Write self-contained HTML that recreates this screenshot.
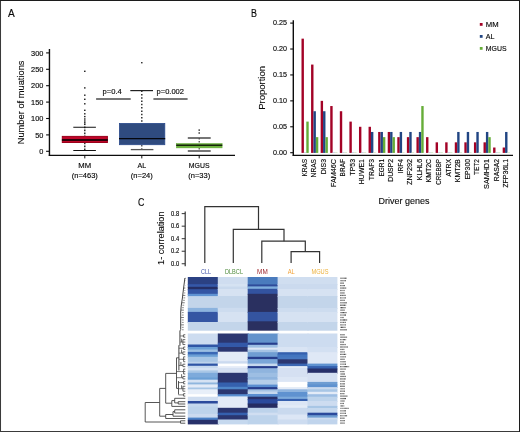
<!DOCTYPE html>
<html><head><meta charset="utf-8"><title>Figure</title>
<style>
html,body{margin:0;padding:0;background:#fff;}
body{width:520px;height:432px;overflow:hidden;}
svg{display:block;font-family:"Liberation Sans",sans-serif;}
</style></head>
<body>
<svg width="520" height="432" viewBox="0 0 520 432">
<rect x="0" y="0" width="520" height="432" fill="#ffffff"/>
<g opacity="0.999">
<text x="7.90" y="16.60" font-size="10.78" fill="#0a0a0a" stroke="#0a0a0a" textLength="6.73" lengthAdjust="spacingAndGlyphs" stroke-width="0.16">A</text>
<text x="251.00" y="16.60" font-size="10.78" fill="#0a0a0a" stroke="#0a0a0a" textLength="5.96" lengthAdjust="spacingAndGlyphs" stroke-width="0.16">B</text>
<text x="137.90" y="205.90" font-size="10.78" fill="#0a0a0a" stroke="#0a0a0a" textLength="6.38" lengthAdjust="spacingAndGlyphs" stroke-width="0.16">C</text>
<line x1="49.45" y1="49.00" x2="49.45" y2="155.85" stroke="#0d0d0d" stroke-width="1.4"/>
<line x1="48.75" y1="155.25" x2="235.00" y2="155.25" stroke="#0d0d0d" stroke-width="1.25"/>
<line x1="46.10" y1="151.30" x2="49.20" y2="151.30" stroke="#0d0d0d" stroke-width="1.1"/>
<text x="39.30" y="154.00" font-size="7.84" fill="#0a0a0a" stroke="#0a0a0a" textLength="4.10" lengthAdjust="spacingAndGlyphs" stroke-width="0.16">0</text>
<line x1="46.10" y1="134.90" x2="49.20" y2="134.90" stroke="#0d0d0d" stroke-width="1.1"/>
<text x="35.19" y="137.60" font-size="7.84" fill="#0a0a0a" stroke="#0a0a0a" textLength="8.21" lengthAdjust="spacingAndGlyphs" stroke-width="0.16">50</text>
<line x1="46.10" y1="118.50" x2="49.20" y2="118.50" stroke="#0d0d0d" stroke-width="1.1"/>
<text x="31.09" y="121.20" font-size="7.84" fill="#0a0a0a" stroke="#0a0a0a" textLength="12.31" lengthAdjust="spacingAndGlyphs" stroke-width="0.16">100</text>
<line x1="46.10" y1="102.10" x2="49.20" y2="102.10" stroke="#0d0d0d" stroke-width="1.1"/>
<text x="31.09" y="104.80" font-size="7.84" fill="#0a0a0a" stroke="#0a0a0a" textLength="12.31" lengthAdjust="spacingAndGlyphs" stroke-width="0.16">150</text>
<line x1="46.10" y1="85.70" x2="49.20" y2="85.70" stroke="#0d0d0d" stroke-width="1.1"/>
<text x="31.09" y="88.40" font-size="7.84" fill="#0a0a0a" stroke="#0a0a0a" textLength="12.31" lengthAdjust="spacingAndGlyphs" stroke-width="0.16">200</text>
<line x1="46.10" y1="69.30" x2="49.20" y2="69.30" stroke="#0d0d0d" stroke-width="1.1"/>
<text x="31.09" y="72.00" font-size="7.84" fill="#0a0a0a" stroke="#0a0a0a" textLength="12.31" lengthAdjust="spacingAndGlyphs" stroke-width="0.16">250</text>
<line x1="46.10" y1="52.90" x2="49.20" y2="52.90" stroke="#0d0d0d" stroke-width="1.1"/>
<text x="31.09" y="55.60" font-size="7.84" fill="#0a0a0a" stroke="#0a0a0a" textLength="12.31" lengthAdjust="spacingAndGlyphs" stroke-width="0.16">300</text>
<text transform="translate(24.20,102.40) rotate(-90)" x="-41.89" y="0" font-size="9.50" fill="#0a0a0a" stroke="#0a0a0a" textLength="83.78" lengthAdjust="spacingAndGlyphs" stroke-width="0.12">Number of muations</text>
<line x1="84.80" y1="155.20" x2="84.80" y2="158.40" stroke="#0d0d0d" stroke-width="1.0"/>
<line x1="141.80" y1="155.20" x2="141.80" y2="158.40" stroke="#0d0d0d" stroke-width="1.0"/>
<line x1="199.20" y1="155.20" x2="199.20" y2="158.40" stroke="#0d0d0d" stroke-width="1.0"/>
<text x="78.37" y="168.20" font-size="7.84" fill="#0a0a0a" stroke="#0a0a0a" textLength="12.86" lengthAdjust="spacingAndGlyphs" stroke-width="0.16">MM</text>
<text x="71.77" y="178.00" font-size="7.84" fill="#0a0a0a" stroke="#0a0a0a" textLength="26.06" lengthAdjust="spacingAndGlyphs" stroke-width="0.16">(n=463)</text>
<text x="137.46" y="168.20" font-size="7.84" fill="#0a0a0a" stroke="#0a0a0a" textLength="8.67" lengthAdjust="spacingAndGlyphs" stroke-width="0.16">AL</text>
<text x="130.82" y="178.00" font-size="7.84" fill="#0a0a0a" stroke="#0a0a0a" textLength="21.96" lengthAdjust="spacingAndGlyphs" stroke-width="0.16">(n=24)</text>
<text x="188.84" y="168.20" font-size="7.84" fill="#0a0a0a" stroke="#0a0a0a" textLength="20.72" lengthAdjust="spacingAndGlyphs" stroke-width="0.16">MGUS</text>
<text x="188.22" y="178.00" font-size="7.84" fill="#0a0a0a" stroke="#0a0a0a" textLength="21.96" lengthAdjust="spacingAndGlyphs" stroke-width="0.16">(n=33)</text>
<text x="102.60" y="94.20" font-size="7.84" fill="#0a0a0a" stroke="#0a0a0a" textLength="19.18" lengthAdjust="spacingAndGlyphs" stroke-width="0.16">p=0.4</text>
<text x="156.60" y="94.20" font-size="7.84" fill="#0a0a0a" stroke="#0a0a0a" textLength="27.39" lengthAdjust="spacingAndGlyphs" stroke-width="0.16">p=0.002</text>
<line x1="96.10" y1="99.10" x2="130.70" y2="99.10" stroke="#4a4a4a" stroke-width="1.5"/>
<line x1="153.40" y1="99.10" x2="187.60" y2="99.10" stroke="#4a4a4a" stroke-width="1.5"/>
<line x1="84.80" y1="126.50" x2="84.80" y2="136.00" stroke="#111" stroke-width="1.3" stroke-dasharray="1.7 1.3"/>
<line x1="84.80" y1="142.60" x2="84.80" y2="150.50" stroke="#111" stroke-width="1.3" stroke-dasharray="1.7 1.3"/>
<line x1="73.30" y1="127.25" x2="95.90" y2="127.25" stroke="#111" stroke-width="1.0"/>
<line x1="73.30" y1="150.50" x2="95.90" y2="150.50" stroke="#111" stroke-width="1.0"/>
<rect x="62.30" y="136.40" width="45.10" height="6.10" fill="#bf0629" stroke="#9c001c" stroke-width="1.0"/>
<line x1="61.90" y1="140.00" x2="107.80" y2="140.00" stroke="#2a0008" stroke-width="2.0"/>
<rect x="84.10" y="70.60" width="1.40" height="1.40" fill="#111"/>
<rect x="84.10" y="87.20" width="1.40" height="1.40" fill="#111"/>
<rect x="84.10" y="94.50" width="1.40" height="1.40" fill="#111"/>
<rect x="84.10" y="98.60" width="1.40" height="1.40" fill="#111"/>
<rect x="84.10" y="103.10" width="1.40" height="1.40" fill="#111"/>
<rect x="84.10" y="109.60" width="1.40" height="1.40" fill="#111"/>
<rect x="84.10" y="113.10" width="1.40" height="1.40" fill="#111"/>
<rect x="84.10" y="115.90" width="1.40" height="1.40" fill="#111"/>
<rect x="84.10" y="118.30" width="1.40" height="1.40" fill="#111"/>
<rect x="84.10" y="120.30" width="1.40" height="1.40" fill="#111"/>
<rect x="84.10" y="122.10" width="1.40" height="1.40" fill="#111"/>
<rect x="84.10" y="123.70" width="1.40" height="1.40" fill="#111"/>
<line x1="141.80" y1="90.60" x2="141.80" y2="123.00" stroke="#222" stroke-width="1.4" stroke-dasharray="1.5 1.8"/>
<line x1="141.80" y1="145.00" x2="141.80" y2="149.60" stroke="#333" stroke-width="1.2" stroke-dasharray="1.5 1.8"/>
<line x1="130.30" y1="90.60" x2="153.00" y2="90.60" stroke="#222" stroke-width="1.2"/>
<line x1="130.80" y1="149.60" x2="153.40" y2="149.60" stroke="#555" stroke-width="1.3"/>
<rect x="119.40" y="123.40" width="45.40" height="21.30" fill="#2f4b7f" stroke="#2b4a8c" stroke-width="0.8"/>
<line x1="119.00" y1="138.60" x2="165.20" y2="138.60" stroke="#05070d" stroke-width="1.3"/>
<rect x="141.10" y="62.00" width="1.40" height="1.40" fill="#222"/>
<line x1="199.20" y1="138.00" x2="199.20" y2="143.30" stroke="#333" stroke-width="1.1" stroke-dasharray="1.4 1.6"/>
<line x1="199.20" y1="148.00" x2="199.20" y2="151.00" stroke="#333" stroke-width="1.1" stroke-dasharray="1.4 1.6"/>
<line x1="187.80" y1="138.00" x2="210.70" y2="138.00" stroke="#484848" stroke-width="1.5"/>
<line x1="187.80" y1="151.00" x2="210.70" y2="151.00" stroke="#484848" stroke-width="1.5"/>
<rect x="176.40" y="143.50" width="45.70" height="4.40" fill="#6cb33e" stroke="#63a838" stroke-width="0.5"/>
<line x1="176.20" y1="145.20" x2="222.30" y2="145.20" stroke="#16240a" stroke-width="1.6"/>
<rect x="198.50" y="129.40" width="1.40" height="1.40" fill="#222"/>
<rect x="198.50" y="132.30" width="1.40" height="1.40" fill="#222"/>
<line x1="293.30" y1="20.30" x2="293.30" y2="155.85" stroke="#0d0d0d" stroke-width="1.4"/>
<line x1="292.60" y1="155.25" x2="513.00" y2="155.25" stroke="#0d0d0d" stroke-width="1.25"/>
<line x1="290.20" y1="152.70" x2="293.20" y2="152.70" stroke="#0d0d0d" stroke-width="1.1"/>
<text x="272.93" y="154.70" font-size="7.84" fill="#0a0a0a" stroke="#0a0a0a" textLength="13.97" lengthAdjust="spacingAndGlyphs" stroke-width="0.16">0.00</text>
<line x1="290.20" y1="126.78" x2="293.20" y2="126.78" stroke="#0d0d0d" stroke-width="1.1"/>
<text x="272.93" y="128.78" font-size="7.84" fill="#0a0a0a" stroke="#0a0a0a" textLength="13.97" lengthAdjust="spacingAndGlyphs" stroke-width="0.16">0.05</text>
<line x1="290.20" y1="100.86" x2="293.20" y2="100.86" stroke="#0d0d0d" stroke-width="1.1"/>
<text x="272.93" y="102.86" font-size="7.84" fill="#0a0a0a" stroke="#0a0a0a" textLength="13.97" lengthAdjust="spacingAndGlyphs" stroke-width="0.16">0.10</text>
<line x1="290.20" y1="74.94" x2="293.20" y2="74.94" stroke="#0d0d0d" stroke-width="1.1"/>
<text x="272.93" y="76.94" font-size="7.84" fill="#0a0a0a" stroke="#0a0a0a" textLength="13.97" lengthAdjust="spacingAndGlyphs" stroke-width="0.16">0.15</text>
<line x1="290.20" y1="49.02" x2="293.20" y2="49.02" stroke="#0d0d0d" stroke-width="1.1"/>
<text x="272.93" y="51.02" font-size="7.84" fill="#0a0a0a" stroke="#0a0a0a" textLength="13.97" lengthAdjust="spacingAndGlyphs" stroke-width="0.16">0.20</text>
<line x1="290.20" y1="23.10" x2="293.20" y2="23.10" stroke="#0d0d0d" stroke-width="1.1"/>
<text x="272.93" y="25.10" font-size="7.84" fill="#0a0a0a" stroke="#0a0a0a" textLength="13.97" lengthAdjust="spacingAndGlyphs" stroke-width="0.16">0.25</text>
<text transform="translate(265.40,87.90) rotate(-90)" x="-21.93" y="0" font-size="9.50" fill="#0a0a0a" stroke="#0a0a0a" textLength="43.86" lengthAdjust="spacingAndGlyphs" stroke-width="0.12">Proportion</text>
<text x="378.49" y="204.20" font-size="9.50" fill="#0a0a0a" stroke="#0a0a0a" textLength="51.02" lengthAdjust="spacingAndGlyphs" stroke-width="0.12">Driver genes</text>
<rect x="301.50" y="38.65" width="2.40" height="114.25" fill="#a30226"/>
<rect x="303.90" y="152.20" width="2.40" height="0.70" fill="#b9c6e0"/>
<rect x="306.30" y="121.60" width="2.40" height="31.30" fill="#66ad38"/>
<text transform="translate(306.90,159.00) rotate(-90)" x="-17.48" y="0" font-size="7.84" fill="#0a0a0a" stroke="#0a0a0a" textLength="17.48" lengthAdjust="spacingAndGlyphs" stroke-width="0.16">KRAS</text>
<rect x="311.08" y="64.57" width="2.40" height="88.33" fill="#a30226"/>
<rect x="313.48" y="111.23" width="2.40" height="41.67" fill="#214583"/>
<rect x="315.88" y="137.15" width="2.40" height="15.75" fill="#66ad38"/>
<text transform="translate(316.48,159.00) rotate(-90)" x="-18.41" y="0" font-size="7.84" fill="#0a0a0a" stroke="#0a0a0a" textLength="18.41" lengthAdjust="spacingAndGlyphs" stroke-width="0.16">NRAS</text>
<rect x="320.66" y="100.86" width="2.40" height="52.04" fill="#a30226"/>
<rect x="323.06" y="111.23" width="2.40" height="41.67" fill="#214583"/>
<rect x="325.46" y="137.15" width="2.40" height="15.75" fill="#66ad38"/>
<text transform="translate(326.06,159.00) rotate(-90)" x="-15.29" y="0" font-size="7.84" fill="#0a0a0a" stroke="#0a0a0a" textLength="15.29" lengthAdjust="spacingAndGlyphs" stroke-width="0.16">DIS3</text>
<rect x="330.24" y="106.04" width="2.40" height="46.86" fill="#a30226"/>
<rect x="332.64" y="152.20" width="2.40" height="0.70" fill="#b9c6e0"/>
<rect x="335.04" y="152.20" width="2.40" height="0.70" fill="#cfe6bd"/>
<text transform="translate(335.64,159.00) rotate(-90)" x="-28.07" y="0" font-size="7.84" fill="#0a0a0a" stroke="#0a0a0a" textLength="28.07" lengthAdjust="spacingAndGlyphs" stroke-width="0.16">FAM46C</text>
<rect x="339.82" y="111.23" width="2.40" height="41.67" fill="#a30226"/>
<rect x="342.22" y="152.20" width="2.40" height="0.70" fill="#b9c6e0"/>
<rect x="344.62" y="152.20" width="2.40" height="0.70" fill="#cfe6bd"/>
<text transform="translate(345.22,159.00) rotate(-90)" x="-17.43" y="0" font-size="7.84" fill="#0a0a0a" stroke="#0a0a0a" textLength="17.43" lengthAdjust="spacingAndGlyphs" stroke-width="0.16">BRAF</text>
<rect x="349.40" y="121.60" width="2.40" height="31.30" fill="#a30226"/>
<rect x="351.80" y="152.20" width="2.40" height="0.70" fill="#b9c6e0"/>
<rect x="354.20" y="152.20" width="2.40" height="0.70" fill="#cfe6bd"/>
<text transform="translate(354.80,159.00) rotate(-90)" x="-16.44" y="0" font-size="7.84" fill="#0a0a0a" stroke="#0a0a0a" textLength="16.44" lengthAdjust="spacingAndGlyphs" stroke-width="0.16">TP53</text>
<rect x="358.98" y="126.78" width="2.40" height="26.12" fill="#a30226"/>
<rect x="361.38" y="152.20" width="2.40" height="0.70" fill="#b9c6e0"/>
<rect x="363.78" y="152.20" width="2.40" height="0.70" fill="#cfe6bd"/>
<text transform="translate(364.38,159.00) rotate(-90)" x="-25.20" y="0" font-size="7.84" fill="#0a0a0a" stroke="#0a0a0a" textLength="25.20" lengthAdjust="spacingAndGlyphs" stroke-width="0.16">HUWE1</text>
<rect x="368.56" y="126.78" width="2.40" height="26.12" fill="#a30226"/>
<rect x="370.96" y="131.96" width="2.40" height="20.94" fill="#214583"/>
<rect x="373.36" y="152.20" width="2.40" height="0.70" fill="#cfe6bd"/>
<text transform="translate(373.96,159.00) rotate(-90)" x="-21.18" y="0" font-size="7.84" fill="#0a0a0a" stroke="#0a0a0a" textLength="21.18" lengthAdjust="spacingAndGlyphs" stroke-width="0.16">TRAF3</text>
<rect x="378.14" y="131.96" width="2.40" height="20.94" fill="#a30226"/>
<rect x="380.54" y="131.96" width="2.40" height="20.94" fill="#214583"/>
<rect x="382.94" y="137.15" width="2.40" height="15.75" fill="#66ad38"/>
<text transform="translate(383.54,159.00) rotate(-90)" x="-17.51" y="0" font-size="7.84" fill="#0a0a0a" stroke="#0a0a0a" textLength="17.51" lengthAdjust="spacingAndGlyphs" stroke-width="0.16">EGR1</text>
<rect x="387.72" y="131.96" width="2.40" height="20.94" fill="#a30226"/>
<rect x="390.12" y="131.96" width="2.40" height="20.94" fill="#214583"/>
<rect x="392.52" y="137.15" width="2.40" height="15.75" fill="#66ad38"/>
<text transform="translate(393.12,159.00) rotate(-90)" x="-22.81" y="0" font-size="7.84" fill="#0a0a0a" stroke="#0a0a0a" textLength="22.81" lengthAdjust="spacingAndGlyphs" stroke-width="0.16">DUSP2</text>
<rect x="397.30" y="137.15" width="2.40" height="15.75" fill="#a30226"/>
<rect x="399.70" y="131.96" width="2.40" height="20.94" fill="#214583"/>
<rect x="402.10" y="152.20" width="2.40" height="0.70" fill="#cfe6bd"/>
<text transform="translate(402.70,159.00) rotate(-90)" x="-14.22" y="0" font-size="7.84" fill="#0a0a0a" stroke="#0a0a0a" textLength="14.22" lengthAdjust="spacingAndGlyphs" stroke-width="0.16">IRF4</text>
<rect x="406.88" y="137.15" width="2.40" height="15.75" fill="#a30226"/>
<rect x="409.28" y="131.96" width="2.40" height="20.94" fill="#214583"/>
<rect x="411.68" y="152.20" width="2.40" height="0.70" fill="#cfe6bd"/>
<text transform="translate(412.28,159.00) rotate(-90)" x="-25.90" y="0" font-size="7.84" fill="#0a0a0a" stroke="#0a0a0a" textLength="25.90" lengthAdjust="spacingAndGlyphs" stroke-width="0.16">ZNF292</text>
<rect x="416.46" y="137.15" width="2.40" height="15.75" fill="#a30226"/>
<rect x="418.86" y="131.96" width="2.40" height="20.94" fill="#214583"/>
<rect x="421.26" y="106.04" width="2.40" height="46.86" fill="#66ad38"/>
<text transform="translate(421.86,159.00) rotate(-90)" x="-21.21" y="0" font-size="7.84" fill="#0a0a0a" stroke="#0a0a0a" textLength="21.21" lengthAdjust="spacingAndGlyphs" stroke-width="0.16">KLHL6</text>
<rect x="426.04" y="137.15" width="2.40" height="15.75" fill="#a30226"/>
<rect x="428.44" y="152.20" width="2.40" height="0.70" fill="#b9c6e0"/>
<rect x="430.84" y="152.20" width="2.40" height="0.70" fill="#cfe6bd"/>
<text transform="translate(431.44,159.00) rotate(-90)" x="-23.49" y="0" font-size="7.84" fill="#0a0a0a" stroke="#0a0a0a" textLength="23.49" lengthAdjust="spacingAndGlyphs" stroke-width="0.16">KMT2C</text>
<rect x="435.62" y="142.33" width="2.40" height="10.57" fill="#a30226"/>
<rect x="438.02" y="152.20" width="2.40" height="0.70" fill="#b9c6e0"/>
<rect x="440.42" y="152.20" width="2.40" height="0.70" fill="#cfe6bd"/>
<text transform="translate(441.02,159.00) rotate(-90)" x="-25.81" y="0" font-size="7.84" fill="#0a0a0a" stroke="#0a0a0a" textLength="25.81" lengthAdjust="spacingAndGlyphs" stroke-width="0.16">CREBBP</text>
<rect x="445.20" y="142.33" width="2.40" height="10.57" fill="#a30226"/>
<rect x="447.60" y="152.20" width="2.40" height="0.70" fill="#b9c6e0"/>
<rect x="450.00" y="152.20" width="2.40" height="0.70" fill="#cfe6bd"/>
<text transform="translate(450.60,159.00) rotate(-90)" x="-17.74" y="0" font-size="7.84" fill="#0a0a0a" stroke="#0a0a0a" textLength="17.74" lengthAdjust="spacingAndGlyphs" stroke-width="0.16">ATRX</text>
<rect x="454.78" y="142.33" width="2.40" height="10.57" fill="#a30226"/>
<rect x="457.18" y="131.96" width="2.40" height="20.94" fill="#214583"/>
<rect x="459.58" y="152.20" width="2.40" height="0.70" fill="#cfe6bd"/>
<text transform="translate(460.18,159.00) rotate(-90)" x="-23.18" y="0" font-size="7.84" fill="#0a0a0a" stroke="#0a0a0a" textLength="23.18" lengthAdjust="spacingAndGlyphs" stroke-width="0.16">KMT2B</text>
<rect x="464.36" y="142.33" width="2.40" height="10.57" fill="#a30226"/>
<rect x="466.76" y="131.96" width="2.40" height="20.94" fill="#214583"/>
<rect x="469.16" y="152.20" width="2.40" height="0.70" fill="#cfe6bd"/>
<text transform="translate(469.76,159.00) rotate(-90)" x="-20.50" y="0" font-size="7.84" fill="#0a0a0a" stroke="#0a0a0a" textLength="20.50" lengthAdjust="spacingAndGlyphs" stroke-width="0.16">EP300</text>
<rect x="473.94" y="142.33" width="2.40" height="10.57" fill="#a30226"/>
<rect x="476.34" y="131.96" width="2.40" height="20.94" fill="#214583"/>
<rect x="478.74" y="152.20" width="2.40" height="0.70" fill="#cfe6bd"/>
<text transform="translate(479.34,159.00) rotate(-90)" x="-15.99" y="0" font-size="7.84" fill="#0a0a0a" stroke="#0a0a0a" textLength="15.99" lengthAdjust="spacingAndGlyphs" stroke-width="0.16">TET2</text>
<rect x="483.52" y="142.33" width="2.40" height="10.57" fill="#a30226"/>
<rect x="485.92" y="131.96" width="2.40" height="20.94" fill="#214583"/>
<rect x="488.32" y="137.15" width="2.40" height="15.75" fill="#66ad38"/>
<text transform="translate(488.92,159.00) rotate(-90)" x="-29.92" y="0" font-size="7.84" fill="#0a0a0a" stroke="#0a0a0a" textLength="29.92" lengthAdjust="spacingAndGlyphs" stroke-width="0.16">SAMHD1</text>
<rect x="493.10" y="147.52" width="2.40" height="5.38" fill="#a30226"/>
<rect x="495.50" y="152.20" width="2.40" height="0.70" fill="#b9c6e0"/>
<rect x="497.90" y="152.20" width="2.40" height="0.70" fill="#cfe6bd"/>
<text transform="translate(498.50,159.00) rotate(-90)" x="-22.14" y="0" font-size="7.84" fill="#0a0a0a" stroke="#0a0a0a" textLength="22.14" lengthAdjust="spacingAndGlyphs" stroke-width="0.16">RASA2</text>
<rect x="502.68" y="147.52" width="2.40" height="5.38" fill="#a30226"/>
<rect x="505.08" y="131.96" width="2.40" height="20.94" fill="#214583"/>
<rect x="507.48" y="152.20" width="2.40" height="0.70" fill="#cfe6bd"/>
<text transform="translate(508.08,159.00) rotate(-90)" x="-28.66" y="0" font-size="7.84" fill="#0a0a0a" stroke="#0a0a0a" textLength="28.66" lengthAdjust="spacingAndGlyphs" stroke-width="0.16">ZFP36L1</text>
<rect x="479.80" y="23.00" width="2.80" height="2.80" fill="#a30226"/>
<text x="485.80" y="27.10" font-size="7.84" fill="#0a0a0a" stroke="#0a0a0a" textLength="12.86" lengthAdjust="spacingAndGlyphs" stroke-width="0.16">MM</text>
<rect x="479.80" y="35.00" width="2.80" height="2.80" fill="#214583"/>
<text x="485.80" y="39.10" font-size="7.84" fill="#0a0a0a" stroke="#0a0a0a" textLength="8.67" lengthAdjust="spacingAndGlyphs" stroke-width="0.16">AL</text>
<rect x="479.80" y="47.00" width="2.80" height="2.80" fill="#66ad38"/>
<text x="485.80" y="51.10" font-size="7.84" fill="#0a0a0a" stroke="#0a0a0a" textLength="20.72" lengthAdjust="spacingAndGlyphs" stroke-width="0.16">MGUS</text>
<line x1="185.20" y1="211.50" x2="185.20" y2="266.20" stroke="#333" stroke-width="1.2"/>
<line x1="181.70" y1="263.75" x2="185.20" y2="263.75" stroke="#333" stroke-width="1.0"/>
<text x="171.09" y="265.85" font-size="6.37" fill="#0a0a0a" stroke="#0a0a0a" textLength="8.01" lengthAdjust="spacingAndGlyphs" stroke-width="0.16">0.0</text>
<line x1="181.70" y1="251.22" x2="185.20" y2="251.22" stroke="#333" stroke-width="1.0"/>
<text x="171.09" y="253.32" font-size="6.37" fill="#0a0a0a" stroke="#0a0a0a" textLength="8.01" lengthAdjust="spacingAndGlyphs" stroke-width="0.16">0.2</text>
<line x1="181.70" y1="238.69" x2="185.20" y2="238.69" stroke="#333" stroke-width="1.0"/>
<text x="171.09" y="240.79" font-size="6.37" fill="#0a0a0a" stroke="#0a0a0a" textLength="8.01" lengthAdjust="spacingAndGlyphs" stroke-width="0.16">0.4</text>
<line x1="181.70" y1="226.16" x2="185.20" y2="226.16" stroke="#333" stroke-width="1.0"/>
<text x="171.09" y="228.26" font-size="6.37" fill="#0a0a0a" stroke="#0a0a0a" textLength="8.01" lengthAdjust="spacingAndGlyphs" stroke-width="0.16">0.6</text>
<line x1="181.70" y1="213.63" x2="185.20" y2="213.63" stroke="#333" stroke-width="1.0"/>
<text x="171.09" y="215.73" font-size="6.37" fill="#0a0a0a" stroke="#0a0a0a" textLength="8.01" lengthAdjust="spacingAndGlyphs" stroke-width="0.16">0.8</text>
<text transform="translate(163.70,238.20) rotate(-90)" x="-26.74" y="0" font-size="9.40" fill="#0a0a0a" stroke="#0a0a0a" textLength="53.48" lengthAdjust="spacingAndGlyphs" stroke-width="0.1">1- correlation</text>
<polyline fill="none" stroke="#333" stroke-width="1.2" points="291.10,262.90 291.10,251.70 319.60,251.70 319.60,262.90"/>
<polyline fill="none" stroke="#333" stroke-width="1.2" points="261.80,262.90 261.80,241.20 305.30,241.20 305.30,251.70"/>
<polyline fill="none" stroke="#333" stroke-width="1.2" points="233.30,262.90 233.30,229.40 284.00,229.40 284.00,241.20"/>
<polyline fill="none" stroke="#333" stroke-width="1.2" points="204.80,262.90 204.80,206.60 258.50,206.60 258.50,229.40"/>
<text x="200.97" y="273.90" font-size="6.47" fill="#4254a8" stroke="#4254a8" textLength="10.06" lengthAdjust="spacingAndGlyphs" stroke-width="0">CLL</text>
<text x="224.98" y="273.90" font-size="6.47" fill="#4f8b3d" stroke="#4f8b3d" textLength="18.03" lengthAdjust="spacingAndGlyphs" stroke-width="0">DLBCL</text>
<text x="257.09" y="273.90" font-size="6.47" fill="#9c2026" stroke="#9c2026" textLength="10.61" lengthAdjust="spacingAndGlyphs" stroke-width="0">MM</text>
<text x="287.72" y="273.90" font-size="6.47" fill="#f2a33a" stroke="#f2a33a" textLength="7.15" lengthAdjust="spacingAndGlyphs" stroke-width="0">AL</text>
<text x="311.45" y="273.90" font-size="6.47" fill="#edb13c" stroke="#edb13c" textLength="17.09" lengthAdjust="spacingAndGlyphs" stroke-width="0">MGUS</text>
<g shape-rendering="auto">
<rect x="187.80" y="277.00" width="31.00" height="8.20" fill="#2b4183"/>
<rect x="187.80" y="284.20" width="31.00" height="3.60" fill="#3558a8"/>
<rect x="187.80" y="286.80" width="31.00" height="3.40" fill="#252f66"/>
<rect x="187.80" y="289.20" width="31.00" height="5.60" fill="#3455a3"/>
<rect x="187.80" y="293.80" width="31.00" height="3.30" fill="#5f93d2"/>
<rect x="187.80" y="296.10" width="31.00" height="12.80" fill="#c3d5ea"/>
<rect x="187.80" y="307.90" width="31.00" height="5.00" fill="#8cb3de"/>
<rect x="187.80" y="311.90" width="31.00" height="11.10" fill="#3455a3"/>
<rect x="187.80" y="322.00" width="31.00" height="8.70" fill="#c3d5ea"/>
<rect x="187.80" y="333.50" width="31.00" height="12.00" fill="#cddcf0"/>
<rect x="187.80" y="344.50" width="31.00" height="3.50" fill="#2f55a5"/>
<rect x="187.80" y="347.00" width="31.00" height="3.50" fill="#6b9fd5"/>
<rect x="187.80" y="349.50" width="31.00" height="3.40" fill="#9bbfe2"/>
<rect x="187.80" y="351.90" width="31.00" height="3.50" fill="#3a68b5"/>
<rect x="187.80" y="354.40" width="31.00" height="3.40" fill="#6b9fd5"/>
<rect x="187.80" y="356.80" width="31.00" height="6.00" fill="#a8c6e5"/>
<rect x="187.80" y="361.80" width="31.00" height="2.80" fill="#bdd3eb"/>
<rect x="187.80" y="363.60" width="31.00" height="3.20" fill="#2f55a5"/>
<rect x="187.80" y="365.80" width="31.00" height="3.10" fill="#c5d8ee"/>
<rect x="187.80" y="367.90" width="31.00" height="3.50" fill="#d5e2f3"/>
<rect x="187.80" y="370.40" width="31.00" height="3.40" fill="#a9c7e6"/>
<rect x="187.80" y="372.80" width="31.00" height="5.70" fill="#7daadb"/>
<rect x="187.80" y="377.50" width="31.00" height="3.20" fill="#6b9fd5"/>
<rect x="187.80" y="379.70" width="31.00" height="3.80" fill="#d5e2f3"/>
<rect x="187.80" y="382.50" width="31.00" height="2.90" fill="#8fb6de"/>
<rect x="187.80" y="384.40" width="31.00" height="4.10" fill="#e3ebf7"/>
<rect x="187.80" y="387.50" width="31.00" height="2.80" fill="#a8c6e5"/>
<rect x="187.80" y="389.30" width="31.00" height="5.90" fill="#e8eff9"/>
<rect x="187.80" y="394.20" width="31.00" height="3.50" fill="#ffffff"/>
<rect x="187.80" y="396.70" width="31.00" height="5.30" fill="#cfddf0"/>
<rect x="187.80" y="401.00" width="31.00" height="3.50" fill="#2b4a9c"/>
<rect x="187.80" y="403.50" width="31.00" height="4.00" fill="#c5d8ee"/>
<rect x="187.80" y="406.50" width="31.00" height="8.40" fill="#bdd3eb"/>
<rect x="187.80" y="413.90" width="31.00" height="4.70" fill="#cbdaef"/>
<rect x="187.80" y="417.60" width="31.00" height="3.20" fill="#4a7fc5"/>
<rect x="187.80" y="419.80" width="31.00" height="4.60" fill="#27306a"/>
<rect x="217.80" y="277.00" width="30.90" height="8.00" fill="#cfddf0"/>
<rect x="217.80" y="284.00" width="30.90" height="3.50" fill="#d5e2f2"/>
<rect x="217.80" y="286.50" width="30.90" height="3.50" fill="#c9d9ed"/>
<rect x="217.80" y="289.00" width="30.90" height="8.00" fill="#d6e2f2"/>
<rect x="217.80" y="296.00" width="30.90" height="12.90" fill="#c3d5ea"/>
<rect x="217.80" y="307.90" width="30.90" height="5.10" fill="#cddcef"/>
<rect x="217.80" y="312.00" width="30.90" height="11.00" fill="#d6e2f2"/>
<rect x="217.80" y="322.00" width="30.90" height="8.70" fill="#c3d5ea"/>
<rect x="217.80" y="333.50" width="30.90" height="10.20" fill="#2b3670"/>
<rect x="217.80" y="342.70" width="30.90" height="5.30" fill="#3358a8"/>
<rect x="217.80" y="347.00" width="30.90" height="5.70" fill="#2b3670"/>
<rect x="217.80" y="351.70" width="30.90" height="10.50" fill="#e3ebf7"/>
<rect x="217.80" y="361.20" width="30.90" height="3.40" fill="#cbdaef"/>
<rect x="217.80" y="363.60" width="30.90" height="3.50" fill="#ffffff"/>
<rect x="217.80" y="366.10" width="30.90" height="2.80" fill="#e6edf8"/>
<rect x="217.80" y="367.90" width="30.90" height="5.90" fill="#d5e0f2"/>
<rect x="217.80" y="372.80" width="30.90" height="10.70" fill="#2b3670"/>
<rect x="217.80" y="382.50" width="30.90" height="5.30" fill="#3560ae"/>
<rect x="217.80" y="386.80" width="30.90" height="3.50" fill="#4f86c8"/>
<rect x="217.80" y="389.30" width="30.90" height="5.90" fill="#2b3670"/>
<rect x="217.80" y="394.20" width="30.90" height="3.20" fill="#5a8ed0"/>
<rect x="217.80" y="396.40" width="30.90" height="12.40" fill="#e3ebf7"/>
<rect x="217.80" y="407.80" width="30.90" height="5.90" fill="#2b3670"/>
<rect x="217.80" y="412.70" width="30.90" height="3.50" fill="#3560ae"/>
<rect x="217.80" y="415.20" width="30.90" height="5.30" fill="#2b3670"/>
<rect x="217.80" y="419.50" width="30.90" height="4.90" fill="#c5d8ee"/>
<rect x="247.70" y="277.00" width="30.90" height="8.40" fill="#4a7bbd"/>
<rect x="247.70" y="284.40" width="30.90" height="3.00" fill="#2f4c9a"/>
<rect x="247.70" y="286.40" width="30.90" height="3.40" fill="#7faedd"/>
<rect x="247.70" y="288.80" width="30.90" height="6.00" fill="#3353a0"/>
<rect x="247.70" y="293.80" width="30.90" height="19.10" fill="#2a3060"/>
<rect x="247.70" y="311.90" width="30.90" height="10.40" fill="#3454a0"/>
<rect x="247.70" y="321.30" width="30.90" height="9.40" fill="#2a3060"/>
<rect x="247.70" y="333.50" width="30.90" height="10.20" fill="#6393cc"/>
<rect x="247.70" y="342.70" width="30.90" height="3.10" fill="#263d8c"/>
<rect x="247.70" y="344.80" width="30.90" height="3.80" fill="#9dbee3"/>
<rect x="247.70" y="347.60" width="30.90" height="3.10" fill="#dde6f5"/>
<rect x="247.70" y="349.70" width="30.90" height="3.50" fill="#a5c3e4"/>
<rect x="247.70" y="352.20" width="30.90" height="5.60" fill="#6f9dd2"/>
<rect x="247.70" y="356.80" width="30.90" height="3.30" fill="#263d8c"/>
<rect x="247.70" y="359.10" width="30.90" height="5.50" fill="#7aa6d8"/>
<rect x="247.70" y="363.60" width="30.90" height="3.50" fill="#c5d8ee"/>
<rect x="247.70" y="366.10" width="30.90" height="3.10" fill="#263d8c"/>
<rect x="247.70" y="368.20" width="30.90" height="5.60" fill="#8fb4de"/>
<rect x="247.70" y="372.80" width="30.90" height="5.20" fill="#9dbee3"/>
<rect x="247.70" y="377.00" width="30.90" height="3.70" fill="#8fb4de"/>
<rect x="247.70" y="379.70" width="30.90" height="5.90" fill="#b5cee9"/>
<rect x="247.70" y="384.60" width="30.90" height="3.50" fill="#5a8ed0"/>
<rect x="247.70" y="387.10" width="30.90" height="3.20" fill="#263d8c"/>
<rect x="247.70" y="389.30" width="30.90" height="3.20" fill="#a5c3e4"/>
<rect x="247.70" y="391.50" width="30.90" height="3.50" fill="#c5d8ee"/>
<rect x="247.70" y="394.00" width="30.90" height="3.70" fill="#5a8ed0"/>
<rect x="247.70" y="396.70" width="30.90" height="3.50" fill="#27306a"/>
<rect x="247.70" y="399.20" width="30.90" height="5.30" fill="#2b4a9c"/>
<rect x="247.70" y="403.50" width="30.90" height="5.30" fill="#252c62"/>
<rect x="247.70" y="407.80" width="30.90" height="5.90" fill="#bdd3eb"/>
<rect x="247.70" y="412.70" width="30.90" height="3.50" fill="#d0def1"/>
<rect x="247.70" y="415.20" width="30.90" height="9.20" fill="#bdd3eb"/>
<rect x="277.60" y="277.00" width="30.90" height="8.00" fill="#d0def0"/>
<rect x="277.60" y="284.00" width="30.90" height="6.00" fill="#cbdaee"/>
<rect x="277.60" y="289.00" width="30.90" height="8.00" fill="#d6e2f2"/>
<rect x="277.60" y="296.00" width="30.90" height="13.00" fill="#c3d5ea"/>
<rect x="277.60" y="308.00" width="30.90" height="5.00" fill="#cddcef"/>
<rect x="277.60" y="312.00" width="30.90" height="11.00" fill="#d6e2f2"/>
<rect x="277.60" y="322.00" width="30.90" height="8.70" fill="#c3d5ea"/>
<rect x="277.60" y="333.50" width="30.90" height="14.50" fill="#cddcf0"/>
<rect x="277.60" y="347.00" width="30.90" height="6.20" fill="#d9e4f4"/>
<rect x="277.60" y="352.20" width="30.90" height="3.30" fill="#3560ae"/>
<rect x="277.60" y="354.50" width="30.90" height="3.30" fill="#4375bf"/>
<rect x="277.60" y="356.80" width="30.90" height="3.50" fill="#4878c0"/>
<rect x="277.60" y="359.30" width="30.90" height="5.30" fill="#2b3670"/>
<rect x="277.60" y="363.60" width="30.90" height="3.50" fill="#3b66b2"/>
<rect x="277.60" y="366.10" width="30.90" height="2.80" fill="#e3ebf7"/>
<rect x="277.60" y="367.90" width="30.90" height="10.10" fill="#d5e0f2"/>
<rect x="277.60" y="377.00" width="30.90" height="5.90" fill="#dce6f5"/>
<rect x="277.60" y="381.90" width="30.90" height="6.20" fill="#ffffff"/>
<rect x="277.60" y="387.10" width="30.90" height="3.20" fill="#e3ebf7"/>
<rect x="277.60" y="389.30" width="30.90" height="3.70" fill="#8fb4de"/>
<rect x="277.60" y="392.00" width="30.90" height="5.70" fill="#5f92d0"/>
<rect x="277.60" y="396.70" width="30.90" height="3.20" fill="#7daadb"/>
<rect x="277.60" y="398.90" width="30.90" height="3.10" fill="#3560ae"/>
<rect x="277.60" y="401.00" width="30.90" height="5.30" fill="#dce6f5"/>
<rect x="277.60" y="405.30" width="30.90" height="3.50" fill="#e3ebf7"/>
<rect x="277.60" y="407.80" width="30.90" height="7.70" fill="#c9d9ee"/>
<rect x="277.60" y="414.50" width="30.90" height="6.00" fill="#dce6f5"/>
<rect x="277.60" y="419.50" width="30.90" height="4.90" fill="#cddcf0"/>
<rect x="307.50" y="277.00" width="29.90" height="8.00" fill="#d0def0"/>
<rect x="307.50" y="284.00" width="29.90" height="6.00" fill="#cbdaee"/>
<rect x="307.50" y="289.00" width="29.90" height="8.00" fill="#d6e2f2"/>
<rect x="307.50" y="296.00" width="29.90" height="13.00" fill="#c3d5ea"/>
<rect x="307.50" y="308.00" width="29.90" height="5.00" fill="#cddcef"/>
<rect x="307.50" y="312.00" width="29.90" height="11.00" fill="#d6e2f2"/>
<rect x="307.50" y="322.00" width="29.90" height="8.70" fill="#c3d5ea"/>
<rect x="307.50" y="333.50" width="29.90" height="14.50" fill="#cddcf0"/>
<rect x="307.50" y="347.00" width="29.90" height="6.20" fill="#d3e0f2"/>
<rect x="307.50" y="352.20" width="29.90" height="12.40" fill="#dfe8f6"/>
<rect x="307.50" y="363.60" width="29.90" height="3.50" fill="#5f92d0"/>
<rect x="307.50" y="366.10" width="29.90" height="3.40" fill="#3560ae"/>
<rect x="307.50" y="368.50" width="29.90" height="5.30" fill="#27306a"/>
<rect x="307.50" y="372.80" width="29.90" height="10.10" fill="#d5e0f2"/>
<rect x="307.50" y="381.90" width="29.90" height="3.50" fill="#6f9dd2"/>
<rect x="307.50" y="384.40" width="29.90" height="3.70" fill="#5f92d0"/>
<rect x="307.50" y="387.10" width="29.90" height="3.20" fill="#c9d9ee"/>
<rect x="307.50" y="389.30" width="29.90" height="3.50" fill="#a8c6e5"/>
<rect x="307.50" y="391.80" width="29.90" height="3.40" fill="#e3ebf7"/>
<rect x="307.50" y="394.20" width="29.90" height="3.50" fill="#9dbee3"/>
<rect x="307.50" y="396.70" width="29.90" height="5.30" fill="#bdd3eb"/>
<rect x="307.50" y="401.00" width="29.90" height="5.90" fill="#cddcf0"/>
<rect x="307.50" y="405.90" width="29.90" height="3.10" fill="#a8c6e5"/>
<rect x="307.50" y="408.00" width="29.90" height="5.70" fill="#c5d8ee"/>
<rect x="307.50" y="412.70" width="29.90" height="3.50" fill="#2b4a9c"/>
<rect x="307.50" y="415.20" width="29.90" height="3.40" fill="#6f9dd2"/>
<rect x="307.50" y="417.60" width="29.90" height="2.90" fill="#cddcf0"/>
<rect x="307.50" y="419.50" width="29.90" height="4.90" fill="#c0d4ec"/>
</g>
<rect x="340.30" y="277.61" width="0.88" height="1.25" fill="#1a1a1a" opacity="0.65"/>
<rect x="341.48" y="277.61" width="0.88" height="1.25" fill="#1a1a1a" opacity="0.77"/>
<rect x="342.66" y="277.61" width="0.88" height="1.25" fill="#1a1a1a" opacity="0.70"/>
<rect x="343.84" y="277.61" width="0.88" height="1.25" fill="#1a1a1a" opacity="0.79"/>
<rect x="345.02" y="277.61" width="0.88" height="1.25" fill="#1a1a1a" opacity="0.80"/>
<rect x="346.20" y="277.61" width="0.65" height="1.25" fill="#1a1a1a" opacity="0.58"/>
<rect x="340.30" y="280.06" width="0.88" height="1.25" fill="#1a1a1a" opacity="0.56"/>
<rect x="341.48" y="280.06" width="0.88" height="1.25" fill="#1a1a1a" opacity="0.88"/>
<rect x="342.66" y="280.06" width="0.88" height="1.25" fill="#1a1a1a" opacity="0.65"/>
<rect x="343.84" y="280.06" width="0.88" height="1.25" fill="#1a1a1a" opacity="0.64"/>
<rect x="345.02" y="280.06" width="0.65" height="1.25" fill="#1a1a1a" opacity="0.95"/>
<rect x="340.30" y="282.52" width="0.88" height="1.25" fill="#1a1a1a" opacity="0.74"/>
<rect x="341.48" y="282.52" width="0.88" height="1.25" fill="#1a1a1a" opacity="0.88"/>
<rect x="342.66" y="282.52" width="1.15" height="1.25" fill="#1a1a1a" opacity="0.74"/>
<rect x="340.30" y="284.97" width="0.88" height="1.25" fill="#1a1a1a" opacity="0.81"/>
<rect x="341.48" y="284.97" width="0.88" height="1.25" fill="#1a1a1a" opacity="0.61"/>
<rect x="342.66" y="284.97" width="0.88" height="1.25" fill="#1a1a1a" opacity="0.80"/>
<rect x="343.84" y="284.97" width="0.88" height="1.25" fill="#1a1a1a" opacity="0.90"/>
<rect x="340.30" y="287.43" width="1.15" height="1.25" fill="#1a1a1a" opacity="0.76"/>
<rect x="341.75" y="287.43" width="0.88" height="1.25" fill="#1a1a1a" opacity="0.85"/>
<rect x="342.93" y="287.43" width="0.88" height="1.25" fill="#1a1a1a" opacity="0.82"/>
<rect x="344.11" y="287.43" width="0.88" height="1.25" fill="#1a1a1a" opacity="0.58"/>
<rect x="345.29" y="287.43" width="0.88" height="1.25" fill="#1a1a1a" opacity="0.85"/>
<rect x="340.30" y="289.88" width="0.88" height="1.25" fill="#1a1a1a" opacity="0.79"/>
<rect x="341.48" y="289.88" width="0.88" height="1.25" fill="#1a1a1a" opacity="0.67"/>
<rect x="342.66" y="289.88" width="0.88" height="1.25" fill="#1a1a1a" opacity="0.56"/>
<rect x="343.84" y="289.88" width="0.65" height="1.25" fill="#1a1a1a" opacity="0.90"/>
<rect x="340.30" y="292.34" width="0.88" height="1.25" fill="#1a1a1a" opacity="0.74"/>
<rect x="341.48" y="292.34" width="0.88" height="1.25" fill="#1a1a1a" opacity="0.84"/>
<rect x="342.66" y="292.34" width="0.88" height="1.25" fill="#1a1a1a" opacity="0.90"/>
<rect x="343.84" y="292.34" width="0.65" height="1.25" fill="#1a1a1a" opacity="0.84"/>
<rect x="340.30" y="294.79" width="0.88" height="1.25" fill="#1a1a1a" opacity="0.92"/>
<rect x="341.48" y="294.79" width="0.50" height="1.25" fill="#1a1a1a" opacity="0.71"/>
<rect x="342.28" y="294.79" width="0.88" height="1.25" fill="#1a1a1a" opacity="0.87"/>
<rect x="343.46" y="294.79" width="0.88" height="1.25" fill="#1a1a1a" opacity="0.73"/>
<rect x="344.64" y="294.79" width="0.88" height="1.25" fill="#1a1a1a" opacity="0.92"/>
<rect x="340.30" y="297.25" width="0.88" height="1.25" fill="#1a1a1a" opacity="0.90"/>
<rect x="341.48" y="297.25" width="0.88" height="1.25" fill="#1a1a1a" opacity="0.59"/>
<rect x="342.66" y="297.25" width="0.88" height="1.25" fill="#1a1a1a" opacity="0.60"/>
<rect x="343.84" y="297.25" width="0.65" height="1.25" fill="#1a1a1a" opacity="0.64"/>
<rect x="344.79" y="297.25" width="0.88" height="1.25" fill="#1a1a1a" opacity="0.94"/>
<rect x="340.30" y="299.70" width="0.88" height="1.25" fill="#1a1a1a" opacity="0.72"/>
<rect x="341.48" y="299.70" width="0.88" height="1.25" fill="#1a1a1a" opacity="0.80"/>
<rect x="342.66" y="299.70" width="0.88" height="1.25" fill="#1a1a1a" opacity="0.67"/>
<rect x="343.84" y="299.70" width="0.88" height="1.25" fill="#1a1a1a" opacity="0.75"/>
<rect x="340.30" y="302.16" width="0.88" height="1.25" fill="#1a1a1a" opacity="0.70"/>
<rect x="341.48" y="302.16" width="0.88" height="1.25" fill="#1a1a1a" opacity="0.69"/>
<rect x="342.66" y="302.16" width="0.88" height="1.25" fill="#1a1a1a" opacity="0.78"/>
<rect x="343.84" y="302.16" width="0.88" height="1.25" fill="#1a1a1a" opacity="0.78"/>
<rect x="345.02" y="302.16" width="0.50" height="1.25" fill="#1a1a1a" opacity="0.91"/>
<rect x="345.82" y="302.16" width="0.88" height="1.25" fill="#1a1a1a" opacity="0.82"/>
<rect x="340.30" y="304.61" width="0.88" height="1.25" fill="#1a1a1a" opacity="0.92"/>
<rect x="341.48" y="304.61" width="0.88" height="1.25" fill="#1a1a1a" opacity="0.89"/>
<rect x="342.66" y="304.61" width="0.88" height="1.25" fill="#1a1a1a" opacity="0.95"/>
<rect x="343.84" y="304.61" width="1.15" height="1.25" fill="#1a1a1a" opacity="0.82"/>
<rect x="345.29" y="304.61" width="0.88" height="1.25" fill="#1a1a1a" opacity="0.62"/>
<rect x="340.30" y="307.07" width="0.50" height="1.25" fill="#1a1a1a" opacity="0.89"/>
<rect x="341.10" y="307.07" width="0.88" height="1.25" fill="#1a1a1a" opacity="0.94"/>
<rect x="342.28" y="307.07" width="0.88" height="1.25" fill="#1a1a1a" opacity="0.91"/>
<rect x="343.46" y="307.07" width="0.88" height="1.25" fill="#1a1a1a" opacity="0.78"/>
<rect x="344.64" y="307.07" width="0.88" height="1.25" fill="#1a1a1a" opacity="0.84"/>
<rect x="340.30" y="309.52" width="0.88" height="1.25" fill="#1a1a1a" opacity="0.63"/>
<rect x="341.48" y="309.52" width="0.88" height="1.25" fill="#1a1a1a" opacity="0.88"/>
<rect x="342.66" y="309.52" width="0.88" height="1.25" fill="#1a1a1a" opacity="0.78"/>
<rect x="343.84" y="309.52" width="0.88" height="1.25" fill="#1a1a1a" opacity="0.66"/>
<rect x="340.30" y="311.98" width="0.88" height="1.25" fill="#1a1a1a" opacity="0.58"/>
<rect x="341.48" y="311.98" width="1.15" height="1.25" fill="#1a1a1a" opacity="0.89"/>
<rect x="342.93" y="311.98" width="0.88" height="1.25" fill="#1a1a1a" opacity="0.95"/>
<rect x="344.11" y="311.98" width="1.15" height="1.25" fill="#1a1a1a" opacity="0.59"/>
<rect x="345.56" y="311.98" width="0.88" height="1.25" fill="#1a1a1a" opacity="0.87"/>
<rect x="340.30" y="314.43" width="0.88" height="1.25" fill="#1a1a1a" opacity="0.71"/>
<rect x="341.48" y="314.43" width="0.88" height="1.25" fill="#1a1a1a" opacity="0.61"/>
<rect x="342.66" y="314.43" width="0.88" height="1.25" fill="#1a1a1a" opacity="0.67"/>
<rect x="343.84" y="314.43" width="0.88" height="1.25" fill="#1a1a1a" opacity="0.86"/>
<rect x="345.02" y="314.43" width="0.88" height="1.25" fill="#1a1a1a" opacity="0.90"/>
<rect x="340.30" y="316.89" width="1.15" height="1.25" fill="#1a1a1a" opacity="0.57"/>
<rect x="341.75" y="316.89" width="0.88" height="1.25" fill="#1a1a1a" opacity="0.80"/>
<rect x="342.93" y="316.89" width="0.88" height="1.25" fill="#1a1a1a" opacity="0.57"/>
<rect x="340.30" y="319.34" width="0.88" height="1.25" fill="#1a1a1a" opacity="0.84"/>
<rect x="341.48" y="319.34" width="0.88" height="1.25" fill="#1a1a1a" opacity="0.68"/>
<rect x="342.66" y="319.34" width="1.15" height="1.25" fill="#1a1a1a" opacity="0.90"/>
<rect x="344.11" y="319.34" width="0.88" height="1.25" fill="#1a1a1a" opacity="0.94"/>
<rect x="345.29" y="319.34" width="0.88" height="1.25" fill="#1a1a1a" opacity="0.75"/>
<rect x="346.47" y="319.34" width="0.65" height="1.25" fill="#1a1a1a" opacity="0.95"/>
<rect x="340.30" y="321.80" width="1.15" height="1.25" fill="#1a1a1a" opacity="0.67"/>
<rect x="341.75" y="321.80" width="0.88" height="1.25" fill="#1a1a1a" opacity="0.58"/>
<rect x="342.93" y="321.80" width="0.88" height="1.25" fill="#1a1a1a" opacity="0.79"/>
<rect x="344.11" y="321.80" width="0.65" height="1.25" fill="#1a1a1a" opacity="0.56"/>
<rect x="345.06" y="321.80" width="0.88" height="1.25" fill="#1a1a1a" opacity="0.63"/>
<rect x="340.30" y="324.25" width="0.88" height="1.25" fill="#1a1a1a" opacity="0.71"/>
<rect x="341.48" y="324.25" width="0.88" height="1.25" fill="#1a1a1a" opacity="0.79"/>
<rect x="342.66" y="324.25" width="0.88" height="1.25" fill="#1a1a1a" opacity="0.61"/>
<rect x="343.84" y="324.25" width="0.88" height="1.25" fill="#1a1a1a" opacity="0.57"/>
<rect x="345.02" y="324.25" width="0.65" height="1.25" fill="#1a1a1a" opacity="0.90"/>
<rect x="340.30" y="326.71" width="0.50" height="1.25" fill="#1a1a1a" opacity="0.68"/>
<rect x="341.10" y="326.71" width="0.88" height="1.25" fill="#1a1a1a" opacity="0.93"/>
<rect x="342.28" y="326.71" width="0.88" height="1.25" fill="#1a1a1a" opacity="0.91"/>
<rect x="343.46" y="326.71" width="0.88" height="1.25" fill="#1a1a1a" opacity="0.70"/>
<rect x="344.64" y="326.71" width="0.88" height="1.25" fill="#1a1a1a" opacity="0.73"/>
<rect x="340.30" y="329.16" width="0.88" height="1.25" fill="#1a1a1a" opacity="0.76"/>
<rect x="341.48" y="329.16" width="0.88" height="1.25" fill="#1a1a1a" opacity="0.81"/>
<rect x="342.66" y="329.16" width="0.88" height="1.25" fill="#1a1a1a" opacity="0.79"/>
<rect x="343.84" y="329.16" width="0.88" height="1.25" fill="#1a1a1a" opacity="0.77"/>
<rect x="345.02" y="329.16" width="0.65" height="1.25" fill="#1a1a1a" opacity="0.80"/>
<rect x="345.97" y="329.16" width="0.65" height="1.25" fill="#1a1a1a" opacity="0.93"/>
<rect x="340.30" y="334.11" width="0.88" height="1.25" fill="#1a1a1a" opacity="0.75"/>
<rect x="341.48" y="334.11" width="0.88" height="1.25" fill="#1a1a1a" opacity="0.72"/>
<rect x="342.66" y="334.11" width="0.88" height="1.25" fill="#1a1a1a" opacity="0.84"/>
<rect x="343.84" y="334.11" width="0.88" height="1.25" fill="#1a1a1a" opacity="0.65"/>
<rect x="340.30" y="336.56" width="0.88" height="1.25" fill="#1a1a1a" opacity="0.67"/>
<rect x="341.48" y="336.56" width="0.88" height="1.25" fill="#1a1a1a" opacity="0.94"/>
<rect x="342.66" y="336.56" width="0.88" height="1.25" fill="#1a1a1a" opacity="0.76"/>
<rect x="343.84" y="336.56" width="0.88" height="1.25" fill="#1a1a1a" opacity="0.77"/>
<rect x="345.02" y="336.56" width="0.88" height="1.25" fill="#1a1a1a" opacity="0.55"/>
<rect x="346.20" y="336.56" width="0.88" height="1.25" fill="#1a1a1a" opacity="0.72"/>
<rect x="340.30" y="339.02" width="0.88" height="1.25" fill="#1a1a1a" opacity="0.78"/>
<rect x="341.48" y="339.02" width="1.15" height="1.25" fill="#1a1a1a" opacity="0.56"/>
<rect x="342.93" y="339.02" width="0.88" height="1.25" fill="#1a1a1a" opacity="0.80"/>
<rect x="344.11" y="339.02" width="0.88" height="1.25" fill="#1a1a1a" opacity="0.80"/>
<rect x="345.29" y="339.02" width="0.88" height="1.25" fill="#1a1a1a" opacity="0.57"/>
<rect x="340.30" y="341.47" width="0.88" height="1.25" fill="#1a1a1a" opacity="0.80"/>
<rect x="341.48" y="341.47" width="0.88" height="1.25" fill="#1a1a1a" opacity="0.74"/>
<rect x="342.66" y="341.47" width="1.15" height="1.25" fill="#1a1a1a" opacity="0.82"/>
<rect x="340.30" y="343.93" width="0.88" height="1.25" fill="#1a1a1a" opacity="0.69"/>
<rect x="341.48" y="343.93" width="0.88" height="1.25" fill="#1a1a1a" opacity="0.83"/>
<rect x="342.66" y="343.93" width="0.88" height="1.25" fill="#1a1a1a" opacity="0.85"/>
<rect x="343.84" y="343.93" width="0.88" height="1.25" fill="#1a1a1a" opacity="0.56"/>
<rect x="345.02" y="343.93" width="0.88" height="1.25" fill="#1a1a1a" opacity="0.57"/>
<rect x="340.30" y="346.38" width="0.88" height="1.25" fill="#1a1a1a" opacity="0.82"/>
<rect x="341.48" y="346.38" width="0.88" height="1.25" fill="#1a1a1a" opacity="0.94"/>
<rect x="342.66" y="346.38" width="0.88" height="1.25" fill="#1a1a1a" opacity="0.65"/>
<rect x="343.84" y="346.38" width="0.88" height="1.25" fill="#1a1a1a" opacity="0.73"/>
<rect x="345.02" y="346.38" width="0.50" height="1.25" fill="#1a1a1a" opacity="0.79"/>
<rect x="345.82" y="346.38" width="0.88" height="1.25" fill="#1a1a1a" opacity="0.68"/>
<rect x="347.00" y="346.38" width="0.88" height="1.25" fill="#1a1a1a" opacity="0.70"/>
<rect x="340.30" y="348.84" width="0.88" height="1.25" fill="#1a1a1a" opacity="0.68"/>
<rect x="341.48" y="348.84" width="0.50" height="1.25" fill="#1a1a1a" opacity="0.70"/>
<rect x="342.28" y="348.84" width="1.15" height="1.25" fill="#1a1a1a" opacity="0.79"/>
<rect x="343.73" y="348.84" width="0.65" height="1.25" fill="#1a1a1a" opacity="0.67"/>
<rect x="340.30" y="351.29" width="0.88" height="1.25" fill="#1a1a1a" opacity="0.70"/>
<rect x="341.48" y="351.29" width="0.88" height="1.25" fill="#1a1a1a" opacity="0.86"/>
<rect x="342.66" y="351.29" width="0.88" height="1.25" fill="#1a1a1a" opacity="0.56"/>
<rect x="343.84" y="351.29" width="0.88" height="1.25" fill="#1a1a1a" opacity="0.78"/>
<rect x="340.30" y="353.75" width="1.15" height="1.25" fill="#1a1a1a" opacity="0.84"/>
<rect x="341.75" y="353.75" width="0.88" height="1.25" fill="#1a1a1a" opacity="0.67"/>
<rect x="342.93" y="353.75" width="0.88" height="1.25" fill="#1a1a1a" opacity="0.64"/>
<rect x="344.11" y="353.75" width="0.88" height="1.25" fill="#1a1a1a" opacity="0.87"/>
<rect x="345.29" y="353.75" width="0.88" height="1.25" fill="#1a1a1a" opacity="0.65"/>
<rect x="340.30" y="356.20" width="0.88" height="1.25" fill="#1a1a1a" opacity="0.62"/>
<rect x="341.48" y="356.20" width="0.88" height="1.25" fill="#1a1a1a" opacity="0.72"/>
<rect x="342.66" y="356.20" width="0.88" height="1.25" fill="#1a1a1a" opacity="0.83"/>
<rect x="343.84" y="356.20" width="0.88" height="1.25" fill="#1a1a1a" opacity="0.59"/>
<rect x="345.02" y="356.20" width="0.88" height="1.25" fill="#1a1a1a" opacity="0.68"/>
<rect x="340.30" y="358.66" width="0.88" height="1.25" fill="#1a1a1a" opacity="0.68"/>
<rect x="341.48" y="358.66" width="0.88" height="1.25" fill="#1a1a1a" opacity="0.88"/>
<rect x="342.66" y="358.66" width="0.88" height="1.25" fill="#1a1a1a" opacity="0.73"/>
<rect x="343.84" y="358.66" width="0.65" height="1.25" fill="#1a1a1a" opacity="0.89"/>
<rect x="340.30" y="361.11" width="0.88" height="1.25" fill="#1a1a1a" opacity="0.62"/>
<rect x="341.48" y="361.11" width="0.88" height="1.25" fill="#1a1a1a" opacity="0.68"/>
<rect x="342.66" y="361.11" width="0.88" height="1.25" fill="#1a1a1a" opacity="0.81"/>
<rect x="343.84" y="361.11" width="0.65" height="1.25" fill="#1a1a1a" opacity="0.90"/>
<rect x="344.79" y="361.11" width="0.88" height="1.25" fill="#1a1a1a" opacity="0.73"/>
<rect x="340.30" y="363.57" width="0.88" height="1.25" fill="#1a1a1a" opacity="0.64"/>
<rect x="341.48" y="363.57" width="0.88" height="1.25" fill="#1a1a1a" opacity="0.60"/>
<rect x="342.66" y="363.57" width="0.88" height="1.25" fill="#1a1a1a" opacity="0.76"/>
<rect x="343.84" y="363.57" width="0.88" height="1.25" fill="#1a1a1a" opacity="0.63"/>
<rect x="345.02" y="363.57" width="0.88" height="1.25" fill="#1a1a1a" opacity="0.87"/>
<rect x="340.30" y="366.02" width="0.88" height="1.25" fill="#1a1a1a" opacity="0.89"/>
<rect x="341.48" y="366.02" width="0.88" height="1.25" fill="#1a1a1a" opacity="0.62"/>
<rect x="342.66" y="366.02" width="0.88" height="1.25" fill="#1a1a1a" opacity="0.66"/>
<rect x="343.84" y="366.02" width="0.88" height="1.25" fill="#1a1a1a" opacity="0.87"/>
<rect x="345.02" y="366.02" width="0.88" height="1.25" fill="#1a1a1a" opacity="0.81"/>
<rect x="346.20" y="366.02" width="0.88" height="1.25" fill="#1a1a1a" opacity="0.87"/>
<rect x="347.38" y="366.02" width="0.65" height="1.25" fill="#1a1a1a" opacity="0.69"/>
<rect x="348.33" y="366.02" width="0.88" height="1.25" fill="#1a1a1a" opacity="0.60"/>
<rect x="340.30" y="368.48" width="0.88" height="1.25" fill="#1a1a1a" opacity="0.67"/>
<rect x="341.48" y="368.48" width="0.88" height="1.25" fill="#1a1a1a" opacity="0.87"/>
<rect x="342.66" y="368.48" width="0.88" height="1.25" fill="#1a1a1a" opacity="0.66"/>
<rect x="343.84" y="368.48" width="0.88" height="1.25" fill="#1a1a1a" opacity="0.69"/>
<rect x="345.02" y="368.48" width="0.65" height="1.25" fill="#1a1a1a" opacity="0.72"/>
<rect x="340.30" y="370.93" width="0.88" height="1.25" fill="#1a1a1a" opacity="0.72"/>
<rect x="341.48" y="370.93" width="0.88" height="1.25" fill="#1a1a1a" opacity="0.71"/>
<rect x="342.66" y="370.93" width="0.88" height="1.25" fill="#1a1a1a" opacity="0.92"/>
<rect x="343.84" y="370.93" width="0.65" height="1.25" fill="#1a1a1a" opacity="0.61"/>
<rect x="340.30" y="373.39" width="0.88" height="1.25" fill="#1a1a1a" opacity="0.55"/>
<rect x="341.48" y="373.39" width="0.88" height="1.25" fill="#1a1a1a" opacity="0.93"/>
<rect x="342.66" y="373.39" width="0.88" height="1.25" fill="#1a1a1a" opacity="0.90"/>
<rect x="343.84" y="373.39" width="0.88" height="1.25" fill="#1a1a1a" opacity="0.94"/>
<rect x="340.30" y="375.84" width="0.88" height="1.25" fill="#1a1a1a" opacity="0.72"/>
<rect x="341.48" y="375.84" width="0.88" height="1.25" fill="#1a1a1a" opacity="0.93"/>
<rect x="342.66" y="375.84" width="0.88" height="1.25" fill="#1a1a1a" opacity="0.92"/>
<rect x="343.84" y="375.84" width="0.88" height="1.25" fill="#1a1a1a" opacity="0.64"/>
<rect x="345.02" y="375.84" width="0.65" height="1.25" fill="#1a1a1a" opacity="0.85"/>
<rect x="340.30" y="378.30" width="0.88" height="1.25" fill="#1a1a1a" opacity="0.88"/>
<rect x="341.48" y="378.30" width="0.88" height="1.25" fill="#1a1a1a" opacity="0.82"/>
<rect x="342.66" y="378.30" width="0.88" height="1.25" fill="#1a1a1a" opacity="0.76"/>
<rect x="343.84" y="378.30" width="1.15" height="1.25" fill="#1a1a1a" opacity="0.67"/>
<rect x="345.29" y="378.30" width="0.65" height="1.25" fill="#1a1a1a" opacity="0.69"/>
<rect x="340.30" y="380.75" width="0.88" height="1.25" fill="#1a1a1a" opacity="0.64"/>
<rect x="341.48" y="380.75" width="0.88" height="1.25" fill="#1a1a1a" opacity="0.58"/>
<rect x="342.66" y="380.75" width="0.88" height="1.25" fill="#1a1a1a" opacity="0.79"/>
<rect x="343.84" y="380.75" width="0.88" height="1.25" fill="#1a1a1a" opacity="0.66"/>
<rect x="340.30" y="383.21" width="0.88" height="1.25" fill="#1a1a1a" opacity="0.87"/>
<rect x="341.48" y="383.21" width="0.88" height="1.25" fill="#1a1a1a" opacity="0.57"/>
<rect x="342.66" y="383.21" width="0.88" height="1.25" fill="#1a1a1a" opacity="0.91"/>
<rect x="343.84" y="383.21" width="0.88" height="1.25" fill="#1a1a1a" opacity="0.83"/>
<rect x="340.30" y="385.66" width="0.88" height="1.25" fill="#1a1a1a" opacity="0.92"/>
<rect x="341.48" y="385.66" width="0.88" height="1.25" fill="#1a1a1a" opacity="0.91"/>
<rect x="342.66" y="385.66" width="0.88" height="1.25" fill="#1a1a1a" opacity="0.91"/>
<rect x="343.84" y="385.66" width="0.88" height="1.25" fill="#1a1a1a" opacity="0.78"/>
<rect x="340.30" y="388.12" width="0.88" height="1.25" fill="#1a1a1a" opacity="0.56"/>
<rect x="341.48" y="388.12" width="0.88" height="1.25" fill="#1a1a1a" opacity="0.85"/>
<rect x="342.66" y="388.12" width="0.88" height="1.25" fill="#1a1a1a" opacity="0.62"/>
<rect x="343.84" y="388.12" width="0.88" height="1.25" fill="#1a1a1a" opacity="0.67"/>
<rect x="340.30" y="390.57" width="0.88" height="1.25" fill="#1a1a1a" opacity="0.82"/>
<rect x="341.48" y="390.57" width="0.88" height="1.25" fill="#1a1a1a" opacity="0.76"/>
<rect x="342.66" y="390.57" width="0.88" height="1.25" fill="#1a1a1a" opacity="0.72"/>
<rect x="343.84" y="390.57" width="0.88" height="1.25" fill="#1a1a1a" opacity="0.93"/>
<rect x="340.30" y="393.03" width="0.88" height="1.25" fill="#1a1a1a" opacity="0.79"/>
<rect x="341.48" y="393.03" width="0.50" height="1.25" fill="#1a1a1a" opacity="0.69"/>
<rect x="342.28" y="393.03" width="0.88" height="1.25" fill="#1a1a1a" opacity="0.65"/>
<rect x="343.46" y="393.03" width="0.88" height="1.25" fill="#1a1a1a" opacity="0.89"/>
<rect x="340.30" y="395.48" width="0.88" height="1.25" fill="#1a1a1a" opacity="0.74"/>
<rect x="341.48" y="395.48" width="0.88" height="1.25" fill="#1a1a1a" opacity="0.86"/>
<rect x="342.66" y="395.48" width="1.15" height="1.25" fill="#1a1a1a" opacity="0.69"/>
<rect x="344.11" y="395.48" width="0.88" height="1.25" fill="#1a1a1a" opacity="0.63"/>
<rect x="345.29" y="395.48" width="0.88" height="1.25" fill="#1a1a1a" opacity="0.76"/>
<rect x="346.47" y="395.48" width="0.88" height="1.25" fill="#1a1a1a" opacity="0.88"/>
<rect x="340.30" y="397.94" width="0.88" height="1.25" fill="#1a1a1a" opacity="0.62"/>
<rect x="341.48" y="397.94" width="0.88" height="1.25" fill="#1a1a1a" opacity="0.87"/>
<rect x="342.66" y="397.94" width="0.88" height="1.25" fill="#1a1a1a" opacity="0.92"/>
<rect x="343.84" y="397.94" width="0.88" height="1.25" fill="#1a1a1a" opacity="0.87"/>
<rect x="345.02" y="397.94" width="0.88" height="1.25" fill="#1a1a1a" opacity="0.88"/>
<rect x="340.30" y="400.39" width="0.88" height="1.25" fill="#1a1a1a" opacity="0.55"/>
<rect x="341.48" y="400.39" width="0.88" height="1.25" fill="#1a1a1a" opacity="0.80"/>
<rect x="342.66" y="400.39" width="0.88" height="1.25" fill="#1a1a1a" opacity="0.90"/>
<rect x="343.84" y="400.39" width="0.88" height="1.25" fill="#1a1a1a" opacity="0.57"/>
<rect x="340.30" y="402.85" width="1.15" height="1.25" fill="#1a1a1a" opacity="0.66"/>
<rect x="341.75" y="402.85" width="0.88" height="1.25" fill="#1a1a1a" opacity="0.66"/>
<rect x="342.93" y="402.85" width="0.88" height="1.25" fill="#1a1a1a" opacity="0.76"/>
<rect x="340.30" y="405.30" width="0.50" height="1.25" fill="#1a1a1a" opacity="0.72"/>
<rect x="341.10" y="405.30" width="0.88" height="1.25" fill="#1a1a1a" opacity="0.74"/>
<rect x="342.28" y="405.30" width="0.88" height="1.25" fill="#1a1a1a" opacity="0.86"/>
<rect x="343.46" y="405.30" width="0.88" height="1.25" fill="#1a1a1a" opacity="0.55"/>
<rect x="340.30" y="407.76" width="0.88" height="1.25" fill="#1a1a1a" opacity="0.57"/>
<rect x="341.48" y="407.76" width="0.50" height="1.25" fill="#1a1a1a" opacity="0.60"/>
<rect x="342.28" y="407.76" width="0.88" height="1.25" fill="#1a1a1a" opacity="0.60"/>
<rect x="343.46" y="407.76" width="0.88" height="1.25" fill="#1a1a1a" opacity="0.58"/>
<rect x="344.64" y="407.76" width="0.65" height="1.25" fill="#1a1a1a" opacity="0.94"/>
<rect x="345.59" y="407.76" width="0.88" height="1.25" fill="#1a1a1a" opacity="0.89"/>
<rect x="346.77" y="407.76" width="0.65" height="1.25" fill="#1a1a1a" opacity="0.58"/>
<rect x="347.72" y="407.76" width="0.88" height="1.25" fill="#1a1a1a" opacity="0.75"/>
<rect x="340.30" y="410.21" width="0.88" height="1.25" fill="#1a1a1a" opacity="0.68"/>
<rect x="341.48" y="410.21" width="0.88" height="1.25" fill="#1a1a1a" opacity="0.68"/>
<rect x="342.66" y="410.21" width="0.88" height="1.25" fill="#1a1a1a" opacity="0.69"/>
<rect x="343.84" y="410.21" width="0.88" height="1.25" fill="#1a1a1a" opacity="0.81"/>
<rect x="345.02" y="410.21" width="0.88" height="1.25" fill="#1a1a1a" opacity="0.78"/>
<rect x="340.30" y="412.67" width="0.88" height="1.25" fill="#1a1a1a" opacity="0.69"/>
<rect x="341.48" y="412.67" width="0.88" height="1.25" fill="#1a1a1a" opacity="0.63"/>
<rect x="342.66" y="412.67" width="0.88" height="1.25" fill="#1a1a1a" opacity="0.68"/>
<rect x="343.84" y="412.67" width="0.88" height="1.25" fill="#1a1a1a" opacity="0.60"/>
<rect x="345.02" y="412.67" width="0.88" height="1.25" fill="#1a1a1a" opacity="0.77"/>
<rect x="340.30" y="415.12" width="0.88" height="1.25" fill="#1a1a1a" opacity="0.84"/>
<rect x="341.48" y="415.12" width="0.88" height="1.25" fill="#1a1a1a" opacity="0.70"/>
<rect x="342.66" y="415.12" width="0.88" height="1.25" fill="#1a1a1a" opacity="0.58"/>
<rect x="343.84" y="415.12" width="0.88" height="1.25" fill="#1a1a1a" opacity="0.62"/>
<rect x="345.02" y="415.12" width="0.88" height="1.25" fill="#1a1a1a" opacity="0.70"/>
<rect x="346.20" y="415.12" width="0.88" height="1.25" fill="#1a1a1a" opacity="0.79"/>
<rect x="340.30" y="417.58" width="0.88" height="1.25" fill="#1a1a1a" opacity="0.86"/>
<rect x="341.48" y="417.58" width="0.88" height="1.25" fill="#1a1a1a" opacity="0.70"/>
<rect x="342.66" y="417.58" width="0.88" height="1.25" fill="#1a1a1a" opacity="0.87"/>
<rect x="343.84" y="417.58" width="0.65" height="1.25" fill="#1a1a1a" opacity="0.80"/>
<rect x="340.30" y="420.03" width="0.88" height="1.25" fill="#1a1a1a" opacity="0.72"/>
<rect x="341.48" y="420.03" width="0.88" height="1.25" fill="#1a1a1a" opacity="0.70"/>
<rect x="342.66" y="420.03" width="0.88" height="1.25" fill="#1a1a1a" opacity="0.75"/>
<rect x="343.84" y="420.03" width="0.88" height="1.25" fill="#1a1a1a" opacity="0.83"/>
<rect x="340.30" y="422.49" width="0.88" height="1.25" fill="#1a1a1a" opacity="0.72"/>
<rect x="341.48" y="422.49" width="0.88" height="1.25" fill="#1a1a1a" opacity="0.83"/>
<rect x="342.66" y="422.49" width="0.88" height="1.25" fill="#1a1a1a" opacity="0.73"/>
<rect x="343.84" y="422.49" width="0.88" height="1.25" fill="#1a1a1a" opacity="0.65"/>
<line x1="145.20" y1="402.50" x2="145.20" y2="422.00" stroke="#444" stroke-width="0.9"/>
<line x1="145.20" y1="422.00" x2="180.50" y2="422.00" stroke="#444" stroke-width="0.9"/>
<line x1="145.20" y1="402.50" x2="159.70" y2="402.50" stroke="#444" stroke-width="0.9"/>
<line x1="180.50" y1="420.80" x2="180.50" y2="423.20" stroke="#444" stroke-width="0.9"/>
<line x1="180.50" y1="420.80" x2="185.30" y2="420.80" stroke="#444" stroke-width="0.9"/>
<line x1="180.50" y1="423.20" x2="185.30" y2="423.20" stroke="#444" stroke-width="0.9"/>
<line x1="159.70" y1="388.40" x2="159.70" y2="416.20" stroke="#444" stroke-width="0.9"/>
<line x1="159.70" y1="388.40" x2="165.70" y2="388.40" stroke="#444" stroke-width="0.9"/>
<line x1="159.70" y1="416.20" x2="165.70" y2="416.20" stroke="#444" stroke-width="0.9"/>
<line x1="165.70" y1="373.40" x2="165.70" y2="403.20" stroke="#444" stroke-width="0.9"/>
<line x1="165.70" y1="373.40" x2="176.50" y2="373.40" stroke="#444" stroke-width="0.9"/>
<line x1="165.70" y1="403.20" x2="171.80" y2="403.20" stroke="#444" stroke-width="0.9"/>
<line x1="176.50" y1="357.80" x2="176.50" y2="388.40" stroke="#444" stroke-width="0.9"/>
<line x1="176.50" y1="357.80" x2="178.90" y2="357.80" stroke="#444" stroke-width="0.9"/>
<line x1="179.90" y1="331.00" x2="179.90" y2="345.80" stroke="#8c8c8c" stroke-width="1.7"/>
<line x1="178.90" y1="345.20" x2="178.90" y2="370.50" stroke="#444" stroke-width="1.0"/>
<line x1="171.80" y1="400.60" x2="171.80" y2="406.40" stroke="#444" stroke-width="0.9"/>
<line x1="171.80" y1="400.60" x2="174.70" y2="400.60" stroke="#444" stroke-width="0.9"/>
<line x1="171.80" y1="406.40" x2="185.30" y2="406.40" stroke="#444" stroke-width="0.9"/>
<line x1="174.70" y1="398.30" x2="174.70" y2="402.90" stroke="#444" stroke-width="0.9"/>
<line x1="174.70" y1="398.30" x2="185.30" y2="398.30" stroke="#444" stroke-width="0.9"/>
<line x1="174.70" y1="402.90" x2="178.20" y2="402.90" stroke="#444" stroke-width="0.9"/>
<line x1="178.20" y1="401.70" x2="178.20" y2="404.00" stroke="#444" stroke-width="0.9"/>
<line x1="178.20" y1="401.70" x2="185.30" y2="401.70" stroke="#444" stroke-width="0.9"/>
<line x1="178.20" y1="404.00" x2="185.30" y2="404.00" stroke="#444" stroke-width="0.9"/>
<line x1="165.70" y1="414.50" x2="165.70" y2="418.50" stroke="#444" stroke-width="0.9"/>
<line x1="165.70" y1="414.50" x2="173.00" y2="414.50" stroke="#444" stroke-width="0.9"/>
<line x1="165.70" y1="418.50" x2="185.30" y2="418.50" stroke="#444" stroke-width="0.9"/>
<line x1="173.00" y1="411.60" x2="173.00" y2="416.20" stroke="#444" stroke-width="0.9"/>
<line x1="173.00" y1="411.60" x2="174.70" y2="411.60" stroke="#444" stroke-width="0.9"/>
<line x1="173.00" y1="416.20" x2="185.30" y2="416.20" stroke="#444" stroke-width="0.9"/>
<line x1="174.70" y1="409.80" x2="174.70" y2="413.00" stroke="#444" stroke-width="0.9"/>
<line x1="174.70" y1="409.80" x2="185.30" y2="409.80" stroke="#444" stroke-width="0.9"/>
<line x1="174.70" y1="413.00" x2="185.30" y2="413.00" stroke="#444" stroke-width="0.9"/>
<line x1="176.50" y1="388.40" x2="178.50" y2="388.40" stroke="#444" stroke-width="0.9"/>
<line x1="178.50" y1="381.00" x2="178.50" y2="394.50" stroke="#444" stroke-width="0.9"/>
<line x1="183.60" y1="334.73" x2="185.30" y2="334.73" stroke="#444" stroke-width="0.8"/>
<line x1="183.60" y1="337.18" x2="185.30" y2="337.18" stroke="#444" stroke-width="0.8"/>
<line x1="183.60" y1="334.73" x2="183.60" y2="337.18" stroke="#444" stroke-width="0.8"/>
<line x1="181.60" y1="335.96" x2="183.60" y2="335.96" stroke="#444" stroke-width="0.8"/>
<line x1="180.20" y1="335.96" x2="181.60" y2="335.96" stroke="#444" stroke-width="0.7"/>
<line x1="182.90" y1="339.64" x2="185.30" y2="339.64" stroke="#444" stroke-width="0.8"/>
<line x1="182.90" y1="342.09" x2="185.30" y2="342.09" stroke="#444" stroke-width="0.8"/>
<line x1="182.90" y1="344.55" x2="185.30" y2="344.55" stroke="#444" stroke-width="0.8"/>
<line x1="182.90" y1="339.64" x2="182.90" y2="344.55" stroke="#444" stroke-width="0.8"/>
<line x1="181.60" y1="342.09" x2="182.90" y2="342.09" stroke="#444" stroke-width="0.8"/>
<line x1="181.60" y1="338.59" x2="181.60" y2="342.09" stroke="#444" stroke-width="0.8"/>
<line x1="180.20" y1="342.09" x2="181.60" y2="342.09" stroke="#444" stroke-width="0.7"/>
<line x1="183.60" y1="347.00" x2="185.30" y2="347.00" stroke="#444" stroke-width="0.8"/>
<line x1="183.60" y1="349.46" x2="185.30" y2="349.46" stroke="#444" stroke-width="0.8"/>
<line x1="183.60" y1="347.00" x2="183.60" y2="349.46" stroke="#444" stroke-width="0.8"/>
<line x1="180.90" y1="348.23" x2="183.60" y2="348.23" stroke="#444" stroke-width="0.8"/>
<line x1="178.90" y1="348.23" x2="180.90" y2="348.23" stroke="#444" stroke-width="0.7"/>
<line x1="182.90" y1="351.91" x2="185.30" y2="351.91" stroke="#444" stroke-width="0.8"/>
<line x1="182.90" y1="354.37" x2="185.30" y2="354.37" stroke="#444" stroke-width="0.8"/>
<line x1="182.90" y1="351.91" x2="182.90" y2="354.37" stroke="#444" stroke-width="0.8"/>
<line x1="181.60" y1="353.14" x2="182.90" y2="353.14" stroke="#444" stroke-width="0.8"/>
<line x1="181.60" y1="349.64" x2="181.60" y2="353.14" stroke="#444" stroke-width="0.8"/>
<line x1="178.90" y1="353.14" x2="181.60" y2="353.14" stroke="#444" stroke-width="0.7"/>
<line x1="183.60" y1="356.82" x2="185.30" y2="356.82" stroke="#444" stroke-width="0.8"/>
<line x1="183.60" y1="359.28" x2="185.30" y2="359.28" stroke="#444" stroke-width="0.8"/>
<line x1="183.60" y1="361.73" x2="185.30" y2="361.73" stroke="#444" stroke-width="0.8"/>
<line x1="183.60" y1="356.82" x2="183.60" y2="361.73" stroke="#444" stroke-width="0.8"/>
<line x1="181.60" y1="359.28" x2="183.60" y2="359.28" stroke="#444" stroke-width="0.8"/>
<line x1="178.90" y1="359.28" x2="181.60" y2="359.28" stroke="#444" stroke-width="0.7"/>
<line x1="182.90" y1="364.19" x2="185.30" y2="364.19" stroke="#444" stroke-width="0.8"/>
<line x1="182.90" y1="366.64" x2="185.30" y2="366.64" stroke="#444" stroke-width="0.8"/>
<line x1="182.90" y1="364.19" x2="182.90" y2="366.64" stroke="#444" stroke-width="0.8"/>
<line x1="180.90" y1="365.42" x2="182.90" y2="365.42" stroke="#444" stroke-width="0.8"/>
<line x1="180.90" y1="361.92" x2="180.90" y2="365.42" stroke="#444" stroke-width="0.8"/>
<line x1="178.90" y1="365.42" x2="180.90" y2="365.42" stroke="#444" stroke-width="0.7"/>
<line x1="183.60" y1="369.10" x2="185.30" y2="369.10" stroke="#444" stroke-width="0.8"/>
<line x1="183.60" y1="371.55" x2="185.30" y2="371.55" stroke="#444" stroke-width="0.8"/>
<line x1="183.60" y1="374.01" x2="185.30" y2="374.01" stroke="#444" stroke-width="0.8"/>
<line x1="183.60" y1="369.10" x2="183.60" y2="374.01" stroke="#444" stroke-width="0.8"/>
<line x1="181.60" y1="371.55" x2="183.60" y2="371.55" stroke="#444" stroke-width="0.8"/>
<line x1="176.50" y1="371.55" x2="181.60" y2="371.55" stroke="#444" stroke-width="0.7"/>
<line x1="182.90" y1="376.46" x2="185.30" y2="376.46" stroke="#444" stroke-width="0.8"/>
<line x1="182.90" y1="378.92" x2="185.30" y2="378.92" stroke="#444" stroke-width="0.8"/>
<line x1="182.90" y1="376.46" x2="182.90" y2="378.92" stroke="#444" stroke-width="0.8"/>
<line x1="181.60" y1="377.69" x2="182.90" y2="377.69" stroke="#444" stroke-width="0.8"/>
<line x1="181.60" y1="374.19" x2="181.60" y2="377.69" stroke="#444" stroke-width="0.8"/>
<line x1="176.50" y1="377.69" x2="181.60" y2="377.69" stroke="#444" stroke-width="0.7"/>
<line x1="183.60" y1="381.37" x2="185.30" y2="381.37" stroke="#444" stroke-width="0.8"/>
<line x1="183.60" y1="383.83" x2="185.30" y2="383.83" stroke="#444" stroke-width="0.8"/>
<line x1="183.60" y1="381.37" x2="183.60" y2="383.83" stroke="#444" stroke-width="0.8"/>
<line x1="180.90" y1="382.60" x2="183.60" y2="382.60" stroke="#444" stroke-width="0.8"/>
<line x1="178.50" y1="382.60" x2="180.90" y2="382.60" stroke="#444" stroke-width="0.7"/>
<line x1="182.90" y1="386.28" x2="185.30" y2="386.28" stroke="#444" stroke-width="0.8"/>
<line x1="182.90" y1="388.74" x2="185.30" y2="388.74" stroke="#444" stroke-width="0.8"/>
<line x1="182.90" y1="391.19" x2="185.30" y2="391.19" stroke="#444" stroke-width="0.8"/>
<line x1="182.90" y1="386.28" x2="182.90" y2="391.19" stroke="#444" stroke-width="0.8"/>
<line x1="181.60" y1="388.74" x2="182.90" y2="388.74" stroke="#444" stroke-width="0.8"/>
<line x1="181.60" y1="385.24" x2="181.60" y2="388.74" stroke="#444" stroke-width="0.8"/>
<line x1="178.50" y1="388.74" x2="181.60" y2="388.74" stroke="#444" stroke-width="0.7"/>
<line x1="183.60" y1="393.65" x2="185.30" y2="393.65" stroke="#444" stroke-width="0.8"/>
<line x1="183.60" y1="396.10" x2="185.30" y2="396.10" stroke="#444" stroke-width="0.8"/>
<line x1="183.60" y1="393.65" x2="183.60" y2="396.10" stroke="#444" stroke-width="0.8"/>
<line x1="181.60" y1="394.88" x2="183.60" y2="394.88" stroke="#444" stroke-width="0.8"/>
<line x1="178.50" y1="394.88" x2="181.60" y2="394.88" stroke="#444" stroke-width="0.7"/>
<polyline fill="none" stroke="#444" stroke-width="1.0" points="184.90,278.00 183.60,288.00 182.40,298.00 181.20,306.00 180.70,312.00 180.70,329.50 179.90,331.00"/>
<line x1="186.07" y1="278.23" x2="185.30" y2="278.23" stroke="#444" stroke-width="0.6"/>
<line x1="184.94" y1="280.68" x2="185.30" y2="280.68" stroke="#444" stroke-width="0.7"/>
<line x1="185.40" y1="283.14" x2="185.30" y2="283.14" stroke="#444" stroke-width="0.6"/>
<line x1="185.07" y1="285.59" x2="185.30" y2="285.59" stroke="#444" stroke-width="0.6"/>
<line x1="183.94" y1="288.05" x2="185.30" y2="288.05" stroke="#444" stroke-width="0.7"/>
<line x1="184.41" y1="290.50" x2="185.30" y2="290.50" stroke="#444" stroke-width="0.6"/>
<line x1="184.07" y1="292.96" x2="185.30" y2="292.96" stroke="#444" stroke-width="0.6"/>
<line x1="182.94" y1="295.41" x2="185.30" y2="295.41" stroke="#444" stroke-width="0.7"/>
<line x1="183.41" y1="297.87" x2="185.21" y2="297.87" stroke="#444" stroke-width="0.6"/>
<line x1="183.08" y1="300.32" x2="184.88" y2="300.32" stroke="#444" stroke-width="0.6"/>
<line x1="181.94" y1="302.78" x2="184.74" y2="302.78" stroke="#444" stroke-width="0.7"/>
<line x1="182.41" y1="305.23" x2="184.21" y2="305.23" stroke="#444" stroke-width="0.6"/>
<line x1="182.08" y1="307.69" x2="183.88" y2="307.69" stroke="#444" stroke-width="0.6"/>
<line x1="181.10" y1="310.14" x2="183.90" y2="310.14" stroke="#444" stroke-width="0.7"/>
<line x1="181.90" y1="312.60" x2="183.70" y2="312.60" stroke="#444" stroke-width="0.6"/>
<line x1="181.90" y1="315.05" x2="183.70" y2="315.05" stroke="#444" stroke-width="0.6"/>
<line x1="181.10" y1="317.51" x2="183.90" y2="317.51" stroke="#444" stroke-width="0.7"/>
<line x1="181.90" y1="319.96" x2="183.70" y2="319.96" stroke="#444" stroke-width="0.6"/>
<line x1="181.90" y1="322.42" x2="183.70" y2="322.42" stroke="#444" stroke-width="0.6"/>
<line x1="181.10" y1="324.87" x2="183.90" y2="324.87" stroke="#444" stroke-width="0.7"/>
<line x1="181.90" y1="327.33" x2="183.70" y2="327.33" stroke="#444" stroke-width="0.6"/>
<line x1="181.90" y1="329.78" x2="183.70" y2="329.78" stroke="#444" stroke-width="0.6"/>
</g>
<rect x="0" y="0" width="1.02" height="432" fill="#3a3a3a"/>
<rect x="0" y="431" width="520" height="1" fill="#3a3a3a"/>
<rect x="0" y="0" width="520" height="1" fill="#1c1c1c"/>
<rect x="519" y="0" width="1" height="432" fill="#1c1c1c"/>
</svg>
</body></html>
